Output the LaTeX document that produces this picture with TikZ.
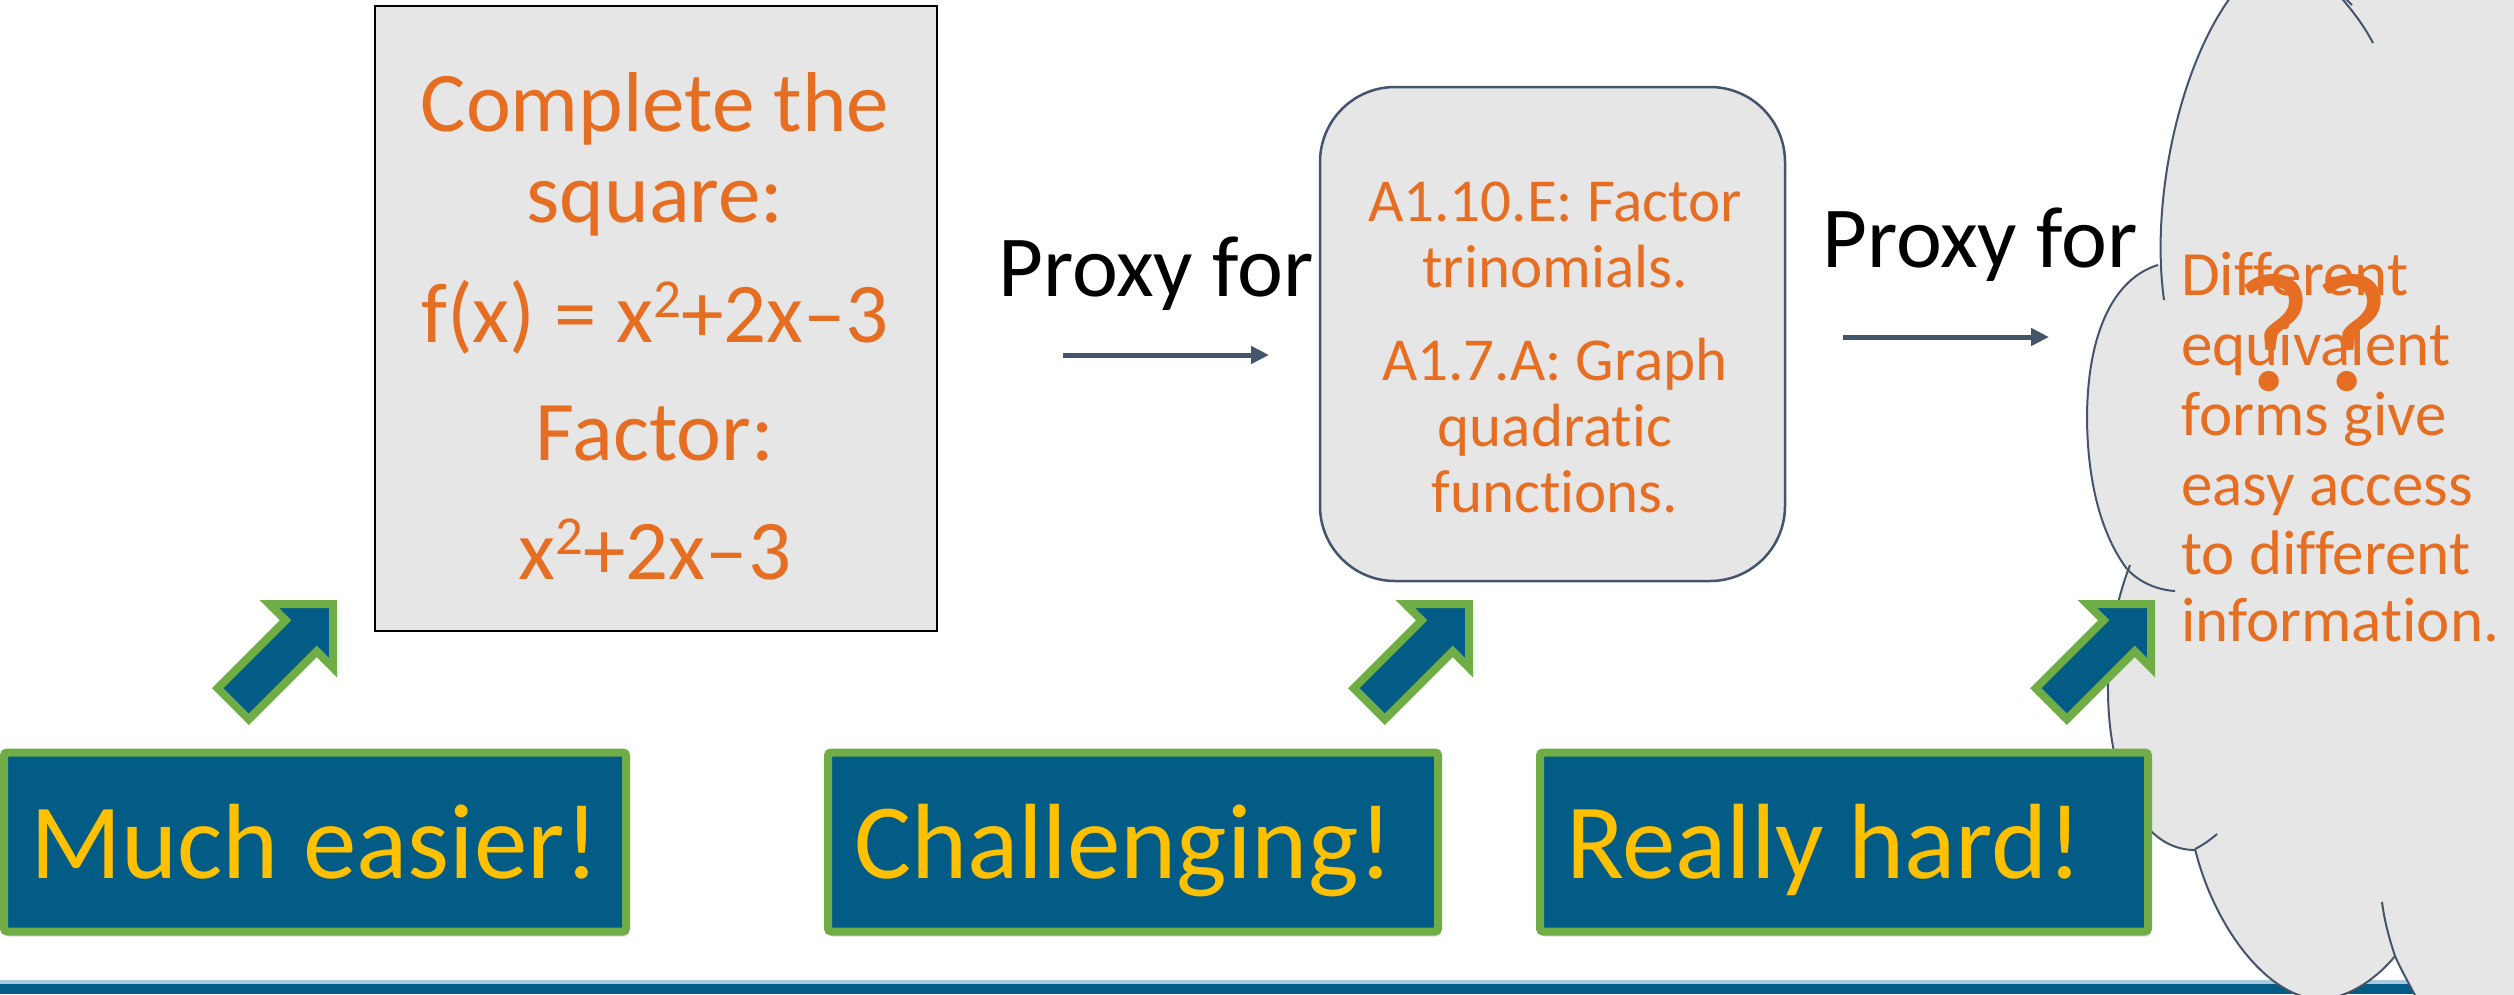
\documentclass[tikz,border=0pt]{standalone}
\usepackage{fontspec}
\setmainfont{Carlito}[Ligatures=NoCommon]
\usetikzlibrary{arrows.meta,shadows}

\definecolor{slate}{HTML}{44546A}
\definecolor{boxgray}{HTML}{E7E6E6}
\definecolor{txtorange}{HTML}{E66E22}
\definecolor{lblue}{HTML}{035C86}
\definecolor{lgreen}{HTML}{70AD47}
\definecolor{lyellow}{HTML}{FFC000}
\definecolor{barlight}{HTML}{A9C9DC}

% raised exponent used in the polynomial
\newcommand{\sqexp}{\raisebox{25pt}{\fontsize{55}{55}\selectfont 2}}
% left-aligned label text with a fixed field width
\newcommand{\labeltext}[2]{\makebox[#1][l]{#2}}

\tikzset{
  taskbox/.style={draw=black, line width=2.5pt, fill=boxgray, inner sep=0pt},
  stdbox/.style={draw=slate, line width=2.5pt, fill=boxgray, rounded corners=75pt, inner sep=0pt},
  bigtxt/.style={font=\fontsize{85}{91}\selectfont, text=txtorange, inner sep=0pt, anchor=base},
  midtxt/.style={font=\fontsize{61}{66}\selectfont, text=txtorange, inner sep=0pt, anchor=base},
  cloudtxt/.style={font=\fontsize{63}{69}\selectfont, text=txtorange, inner sep=0pt, anchor=base west},
  qmarks/.style={font=\fontsize{170}{172}\selectfont, text=txtorange, inner sep=0pt, anchor=base},
  proxytxt/.style={font=\fontsize{87}{93}\selectfont, text=black, inner sep=0pt, anchor=base},
  proxyarrow/.style={draw=slate, line width=5pt, -{Triangle[length=18pt,width=17pt]}},
  cloudline/.style={draw=slate, line width=2pt},
  levelbox/.style={draw=lgreen, fill=lblue, line width=8pt, rounded corners=3pt,
    text=lyellow, font=\fontsize{107}{112}\selectfont,
    inner xsep=26pt, inner ysep=0pt, text height=72pt, text depth=0pt,
    minimum height=179pt,
    drop shadow={opacity=0.25, shadow xshift=2pt, shadow yshift=-5pt}},
  fatbody/.style={draw=lgreen, fill=lblue, line width=8pt, line join=miter, miter limit=10},
  fatarrow/.pic={
    \path[fatbody] (0,0) -- (-45,45) -- (-45,22) -- (-141,22) -- (-141,-22)
      -- (-45,-22) -- (-45,-45) -- cycle;
  }
}

\begin{document}
\begin{tikzpicture}[x=1pt,y=-1pt]
\useasboundingbox (0,0) rectangle (2514,994);
\fill[white] (0,0) rectangle (2514,994);

% footer bar
\fill[barlight] (0,980) rectangle (2514,984);
\fill[lblue] (0,984) rectangle (2514,994);

% thought cloud on the right, running off the page edges
\begin{scope}
  \clip (0,0) rectangle (2514,994);
  \fill[boxgray] (2236,-10) .. controls (2180,60) and (2150,200) .. (2164,300)
    -- (2530,300) -- (2530,-10) -- cycle;
  \fill[boxgray] (2158,265) .. controls (2115,278) and (2088,330) .. (2087,415)
    .. controls (2087,490) and (2105,540) .. (2127,569)
    -- (2530,569) -- (2530,265) -- cycle;
  \fill[boxgray] (2130,565) .. controls (2085,680) and (2110,850) .. (2195,850)
    -- (2530,850) -- (2530,565) -- cycle;
  \fill[boxgray] (2195,849) .. controls (2215,930) and (2270,999) .. (2320,999)
    .. controls (2350,999) and (2380,975) .. (2395,956)
    .. controls (2402,972) and (2410,985) .. (2420,1005)
    -- (2530,1005) -- (2530,849) -- cycle;
  % lobe outlines
  \draw[cloudline] (2236,-10) .. controls (2180,60) and (2150,200) .. (2164,300);
  \draw[cloudline] (2330,-15) .. controls (2348,5) and (2362,22) .. (2373,43);
  \draw[cloudline] (2345,-2) -- (2352,5);
  \draw[cloudline] (2158,265) .. controls (2115,278) and (2088,330) .. (2087,415)
    .. controls (2087,490) and (2105,540) .. (2127,569);
  \draw[cloudline] (2127,569) .. controls (2140,583) and (2158,590) .. (2175,591);
  \draw[cloudline] (2130,565) .. controls (2085,680) and (2110,850) .. (2195,850);
  \draw[cloudline] (2195,849) .. controls (2203,845) and (2210,840) .. (2217,834);
  \draw[cloudline] (2195,849) .. controls (2215,930) and (2270,999) .. (2320,999)
    .. controls (2350,999) and (2380,975) .. (2395,956);
  \draw[cloudline] (2395,956) .. controls (2388,935) and (2384,918) .. (2382,902);
  \draw[cloudline] (2395,956) .. controls (2402,972) and (2410,985) .. (2420,1005);
\end{scope}

% question marks and text inside the cloud
\node[qmarks] (qq) at (2313,390) {??};
\node[cloudtxt] (c1) at (2181,295) {Different};
\node[cloudtxt] (c2) at (2181,365) {equivalent};
\node[cloudtxt] (c3) at (2181,435) {forms give};
\node[cloudtxt] (c4) at (2181,505) {easy access};
\node[cloudtxt] (c5) at (2181,574) {to different};
\node[cloudtxt] (c6) at (2181,641) {information.};

% task box
\node[taskbox, minimum width=562pt, minimum height=625pt] (task) at (656,318.5) {};
\node[bigtxt] (t1) at (655,131) {Complete the};
\node[bigtxt] (t2) at (655,222) {square:};
\node[bigtxt] (t3) at (655,342) {f(x) = x\sqexp+2x–3};
\node[bigtxt] (t4) at (655,460) {Factor:};
\node[bigtxt] (t5) at (655,579) {x\sqexp+2x–3};

% standards box
\node[stdbox, minimum width=465pt, minimum height=494pt] (std) at (1552.5,334) {};
\node[midtxt] (s1) at (1555,221) {A1.10.E: Factor};
\node[midtxt] (s2) at (1555,287) {trinomials.};
\node[midtxt] (s3) at (1555,380) {A1.7.A: Graph};
\node[midtxt] (s4) at (1555,446) {quadratic};
\node[midtxt] (s5) at (1555,512) {functions.};

% "Proxy for" connectors
\node[proxytxt] (px1) at (1156,296) {Proxy for};
\node[proxytxt] (px2) at (1980,267) {Proxy for};
\coordinate (a1s) at (1063,355);
\coordinate (a1e) at (1269,355);
\coordinate (a2s) at (1843,337);
\coordinate (a2e) at (2049,337);
\draw[proxyarrow] (a1s) -- (a1e);
\draw[proxyarrow] (a2s) -- (a2e);

% block arrows pointing up to each item
\pic[rotate=45] (up1) at (333,604) {fatarrow};
\pic[rotate=45] (up2) at (1469,604) {fatarrow};
\pic[rotate=45] (up3) at (2151,604) {fatarrow};

% difficulty labels
\node[levelbox] (easy) at (315,842) {\labeltext{570pt}{Much easier!}};
\node[levelbox] (chal) at (1133,842) {\labeltext{558pt}{Challenging!}};
\node[levelbox] (hard) at (1844,842) {\labeltext{556pt}{Really hard!}};
\end{tikzpicture}
\end{document}
